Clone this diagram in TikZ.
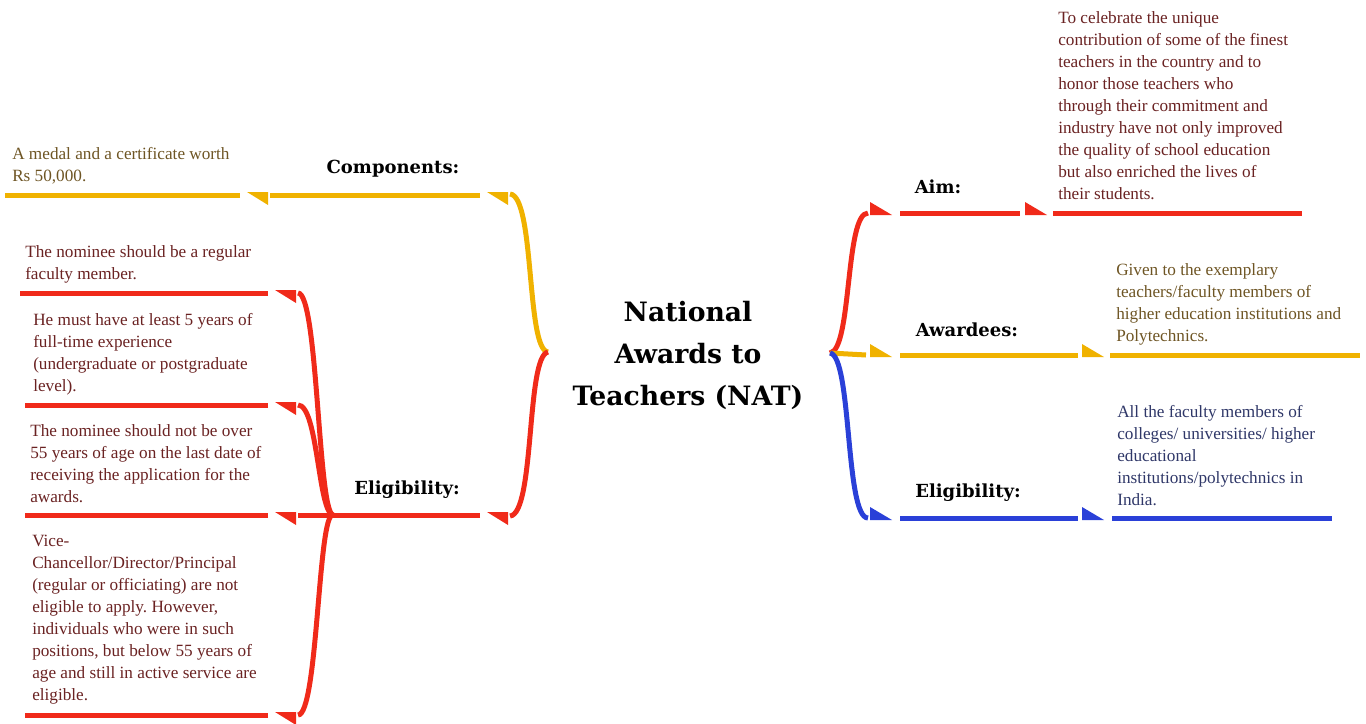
\documentclass[tikz,border=0pt]{standalone}
\usepackage{fontspec}
\setmainfont{Liberation Serif}
\newfontfamily\headfont{DejaVu Serif}
\frenchspacing
\definecolor{natred}{RGB}{240,42,26}
\definecolor{natyellow}{RGB}{240,178,0}
\definecolor{natblue}{RGB}{42,64,216}
\definecolor{txtolive}{RGB}{110,85,36}
\definecolor{txtred}{RGB}{106,34,34}
\definecolor{txtblue}{RGB}{47,55,104}
\tikzset{
  leaf/.style={anchor=north west, inner sep=0pt, align=left,
    font=\fontsize{12.9}{16.5}\selectfont},
  label/.style={inner sep=0pt, font=\headfont\bfseries\fontsize{13.5}{16}\selectfont},
  branch/.style={line width=3.75pt},
  lhead/.pic={\fill (-21,-3) -- (0,-3) -- (0,10) -- cycle;},
  rhead/.pic={\fill (0,-11) -- (0,2) -- (22,2) -- cycle;}
}
\begin{document}
\begin{tikzpicture}[x=0.75pt, y=-0.75pt]
    \useasboundingbox (0,0) rectangle (1366,724);

    % Title
    \node[align=center, inner sep=0pt, font=\headfont\bfseries\fontsize{20}{31.5}\selectfont]
        (nat) at (688,355) {National\\Awards to\\Teachers (NAT)};
    \coordinate (cl) at (548,352);
    \coordinate (cr) at (830,353);

    % Components
    \node[label] (comp) at (393,169) {Components:};
    \node[leaf, text=txtolive] (comptxt) at (12,147) {A medal and a certificate worth\\Rs 50,000.};
    \coordinate (comp1) at (510,194);
    \draw[branch, natyellow] (cl) .. controls (526,350) and (535,196) .. (comp1);
    \draw[natyellow] (508,195) pic {lhead} (268,195) pic {lhead};
    \draw[branch, natyellow] (480,195) -- (270,195);
    \draw[branch, natyellow] (240,195) -- (5,195);

    % Eligibility (left)
    \node[label] (eligl) at (407,490) {Eligibility:};
    \coordinate (elig1) at (510,516);
    \coordinate (eligj) at (333,515);
    \draw[branch, natred] (cl) .. controls (526,356) and (535,514) .. (elig1);
    \draw[natred] (508,515) pic {lhead};
    \draw[branch, natred] (480,515) -- (eligj);
    \foreach \y in {293,405,715}
        \draw[branch, natred] (eligj) .. controls (318,512) and (318,\y) .. (298,\y);
    \draw[branch, natred] (eligj) -- (298,515);
    \foreach \y/\x in {293/20, 405/25, 515/25, 715/25} {
        \draw[natred] (296,\y) pic {lhead};
        \draw[branch, natred] (268,\y) -- (\x,\y);
    }
    \node[leaf, text=txtred] (e1) at (25,245) {The nominee should be a regular\\faculty member.};
    \node[leaf, text=txtred] (e2) at (33,313) {He must have at least 5 years of\\full-time experience\\(undergraduate or postgraduate\\level).};
    \node[leaf, text=txtred] (e3) at (30,424) {The nominee should not be over\\55 years of age on the last date of\\receiving the application for the\\awards.};
    \node[leaf, text=txtred] (e4) at (32,535) {Vice-\\Chancellor/Director/Principal\\(regular or officiating) are not\\eligible to apply. However,\\individuals who were in such\\positions, but below 55 years of\\age and still in active service are\\eligible.};

    % Aim
    \node[label] (aim) at (938,187) {Aim:};
    \coordinate (aim1) at (868,213);
    \draw[branch, natred] (cr) .. controls (852,350) and (845,213) .. (aim1);
    \draw[natred] (870,213) pic {rhead} (1025,213) pic {rhead};
    \draw[branch, natred] (900,213) -- (1020,213);
    \draw[branch, natred] (1053,213) -- (1302,213);
    \node[leaf, text=txtred] (aimtxt) at (1058,11) {To celebrate the unique\\contribution of some of the finest\\teachers in the country and to\\honor those teachers who\\through their commitment and\\industry have not only improved\\the quality of school education\\but also enriched the lives of\\their students.};

    % Awardees
    \node[label] (awd) at (967,330) {Awardees:};
    \coordinate (awd1) at (866,355);
    \draw[branch, natyellow] (cr) -- (awd1);
    \draw[natyellow] (870,355) pic {rhead} (1082,355) pic {rhead};
    \draw[branch, natyellow] (900,355) -- (1078,355);
    \draw[branch, natyellow] (1110,355) -- (1360,355);
    \node[leaf, text=txtolive] (awdtxt) at (1116,263) {Given to the exemplary\\teachers/faculty members of\\higher education institutions and\\Polytechnics.};

    % Eligibility (right)
    \node[label] (eligr) at (968,493) {Eligibility:};
    \coordinate (eligr1) at (868,518);
    \draw[branch, natblue] (cr) .. controls (852,356) and (845,518) .. (eligr1);
    \draw[natblue] (870,518) pic {rhead} (1082,518) pic {rhead};
    \draw[branch, natblue] (900,518) -- (1078,518);
    \draw[branch, natblue] (1112,518) -- (1332,518);
    \node[leaf, text=txtblue] (eligrtxt) at (1117,405) {All the faculty members of\\colleges/ universities/ higher\\educational\\institutions/polytechnics in\\India.};
\end{tikzpicture}
\end{document}
